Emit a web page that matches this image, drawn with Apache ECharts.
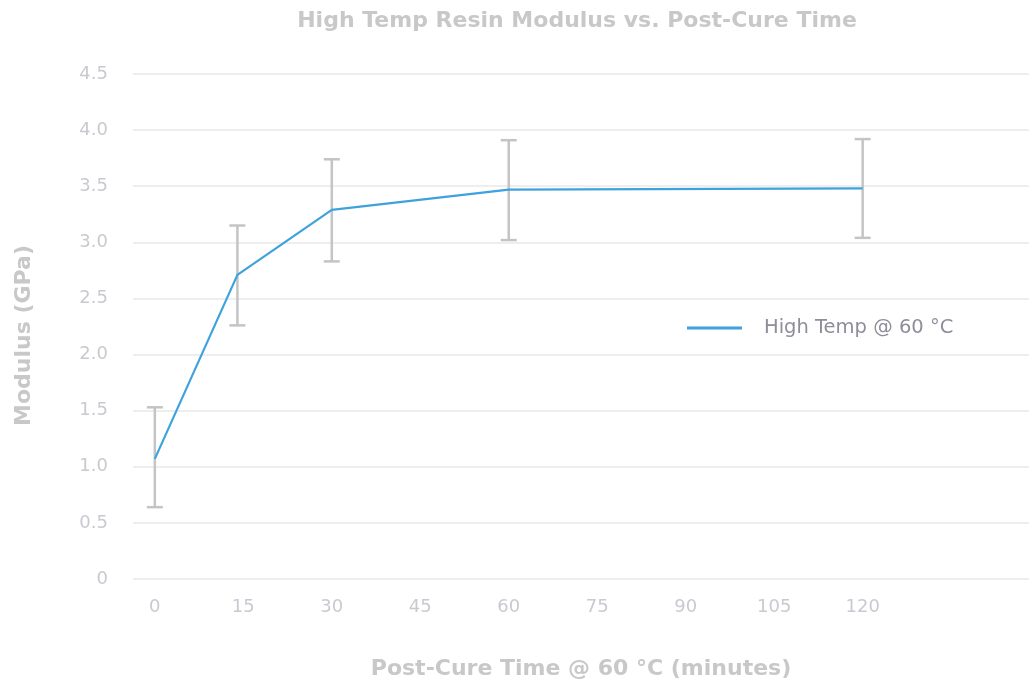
<!DOCTYPE html>
<html>
<head>
<meta charset="utf-8">
<script src="https://cdn.jsdelivr.net/npm/echarts@6/dist/echarts.min.js"></script>
<style>html,body{margin:0;padding:0;background:#fff;}#c{width:1029px;height:685px;}</style>
</head>
<body>
<div id="c"></div>
<script>
const timeMinutes = [0, 14, 30, 60, 120];
const modulus = [1.07, 2.71, 3.29, 3.47, 3.48];
const errLow = [0.64, 2.26, 2.83, 3.02, 3.04];
const errHigh = [1.53, 3.15, 3.74, 3.91, 3.92];
const xTickLabels = [0, 15, 30, 45, 60, 75, 90, 105, 120];
const seriesName = 'High Temp @ 60 °C';

const lineData = timeMinutes.map((t, i) => [t, modulus[i]]);
const errData = timeMinutes.map((t, i) => [t, errLow[i], errHigh[i]]);

const chart = echarts.init(document.getElementById('c'));
const font = '"DejaVu Sans", "Open Sans", sans-serif';
chart.setOption({
  animation: false,
  textStyle: { fontFamily: font },
  title: {
    text: 'High Temp Resin Modulus vs. Post-Cure Time',
    left: 572, top: 5, textAlign: 'center',
    textStyle: { color: '#c8c8c8', fontSize: 22, fontWeight: 'bold', fontFamily: font }
  },
  legend: {
    left: 682, top: 313,
    itemWidth: 55, itemHeight: 3,
    data: [{ name: seriesName, icon: 'rect' }],
    textStyle: { color: '#8e8e9a', fontSize: 19.5, padding: [0, 0, 0, 17], fontFamily: font }
  },
  grid: { left: 133, right: 0, top: 74, bottom: 102 },
  xAxis: {
    type: 'value', min: -3.7, max: 148.2,
    name: 'Post-Cure Time @ 60 °C (minutes)',
    nameLocation: 'middle', nameGap: 79,
    nameTextStyle: { color: '#c8c8c8', fontSize: 22, fontWeight: 'bold', fontFamily: font },
    axisLine: { show: false }, axisTick: { show: false },
    splitLine: { show: false },
    axisLabel: { customValues: xTickLabels, color: '#c9c9d1', fontSize: 18, margin: 19, fontFamily: font }
  },
  yAxis: {
    type: 'value', min: 0, max: 4.5, interval: 0.5,
    name: 'Modulus (GPa)',
    nameLocation: 'middle', nameGap: 98,
    nameTextStyle: { color: '#c8c8c8', fontSize: 22, fontWeight: 'bold', fontFamily: font, padding: [0, 18, 0, 0] },
    axisLine: { show: false }, axisTick: { show: false },
    splitLine: { lineStyle: { color: '#e8e8e8', width: 1.5 } },
    axisLabel: { color: '#c9c9d1', fontSize: 18, margin: 25, fontFamily: font,
      formatter: v => v === 0 ? '0' : v.toFixed(1) }
  },
  series: [
    {
      type: 'custom', name: 'err', silent: true, z: 1,
      data: errData,
      renderItem: function (params, api) {
        const x = api.value(0);
        const lo = api.coord([x, api.value(1)]);
        const hi = api.coord([x, api.value(2)]);
        const cw = 8;
        const st = { stroke: '#c4c4c4', lineWidth: 2.5, fill: 'none' };
        return { type: 'group', children: [
          { type: 'line', shape: { x1: lo[0], y1: lo[1], x2: hi[0], y2: hi[1] }, style: st },
          { type: 'line', shape: { x1: lo[0] - cw, y1: lo[1], x2: lo[0] + cw, y2: lo[1] }, style: st },
          { type: 'line', shape: { x1: hi[0] - cw, y1: hi[1], x2: hi[0] + cw, y2: hi[1] }, style: st }
        ]};
      }
    },
    {
      type: 'line', name: seriesName, data: lineData, z: 3,
      symbol: 'none', showSymbol: false,
      lineStyle: { color: '#3ea2dd', width: 2.2 },
      itemStyle: { color: '#3ea2dd' }
    }
  ]
});
</script>
</body>
</html>
